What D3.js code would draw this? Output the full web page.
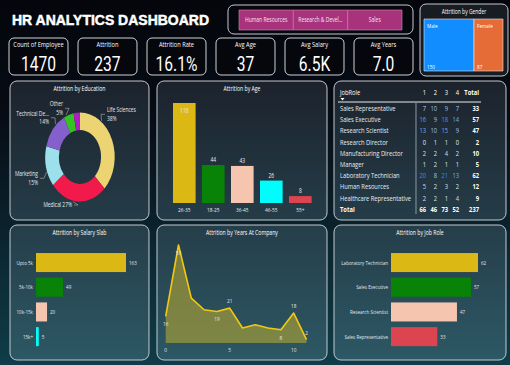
<!DOCTYPE html>
<html lang="en">
<head>
<meta charset="utf-8">
<title>HR Analytics Dashboard</title>
<script src="https://d3js.org/d3.v7.min.js"></script>
<style>
  body { margin: 0; background: #05070d; }
  text { font-family: "Open Sans", sans-serif; fill: #ffffff; }
</style>
</head>
<body>
<script>
// ---- data
var kpiNames = ["Count of Employee", "Attrition", "Attrition Rate", "Avg Age", "Avg Salary", "Avg Years"];
var kpiValues = ["1470", "237", "16.1%", "37", "6.5K", "7.0"];

var departments = ["Human Resources", "Research & Devel...", "Sales"];

var genders = ["Male", "Female"];
var genderAttrition = [150, 87];

var eduFields = ["Life Sciences", "Medical", "Marketing", "Technical Degree", "Other", "Human Resources"];
var eduAttrition = [89, 63, 35, 32, 11, 7];

var ageBands = ["26-35", "18-25", "36-45", "46-55", "55+"];
var ageAttrition = [116, 44, 43, 26, 8];

var jobRoles = ["Sales Representative", "Sales Executive", "Research Scientist", "Research Director",
  "Manufacturing Director", "Manager", "Laboratory Technician", "Human Resources", "Healthcare Representative"];
var satisfaction = ["1", "2", "3", "4"];
var roleBySatisfaction = [
  [7, 10, 9, 7],
  [16, 9, 18, 14],
  [13, 10, 15, 9],
  [0, 1, 1, 0],
  [2, 2, 4, 2],
  [1, 2, 1, 1],
  [20, 8, 21, 13],
  [5, 2, 3, 2],
  [2, 2, 1, 4]
];

var salarySlabs = ["Upto 5k", "5k-10k", "10k-15k", "15k+"];
var salaryAttrition = [163, 49, 20, 5];

var yearsAtCompany = [0, 1, 2, 3, 4, 5, 6, 7, 8, 9, 10, 11];
var yearsAttrition = [16, 59, 27, 20, 19, 21, 9, 11, 9, 8, 18, 2];
var yearTicks = [0, 5, 10];

var topRoles = ["Laboratory Technician", "Sales Executive", "Research Scientist", "Sales Representative"];
var topRoleAttrition = [62, 57, 47, 33];

// ---- palettes
var eduColors = ["#ecd473", "#f2194b", "#9be0ea", "#855fcb", "#35c322", "#b01cc6"];
var ageColors = ["#dcb815", "#088308", "#f5c5b0", "#00fdfd", "#dc4550"];
var salaryColors = ["#dcb815", "#088308", "#f5c5b0", "#00fdfd"];
var roleColors = ["#dcb815", "#088308", "#f5c5b0", "#dc4550"];

// the picture is squeezed sideways, so draw wide and scale x down
var k = 0.78, W = 510, H = 365;
function X(v) { return v / k; }

var svg = d3.select("body").append("svg").attr("width", W).attr("height", H);
var defs = svg.append("defs");

var bg = defs.append("linearGradient").attr("id", "bg")
  .attr("x1", 0).attr("y1", 0).attr("x2", 0).attr("y2", 1);
bg.append("stop").attr("offset", "0%").attr("stop-color", "#04060b");
bg.append("stop").attr("offset", "30%").attr("stop-color", "#060b14");
bg.append("stop").attr("offset", "100%").attr("stop-color", "#0f3d49");

var pg = defs.append("linearGradient").attr("id", "panel")
  .attr("gradientUnits", "userSpaceOnUse")
  .attr("x1", 0).attr("y1", 80).attr("x2", 0).attr("y2", 362);
pg.append("stop").attr("offset", "0%").attr("stop-color", "#1c222c");
pg.append("stop").attr("offset", "100%").attr("stop-color", "#2d5865");

svg.append("rect").attr("width", W).attr("height", H).attr("fill", "url(#bg)");

var root = svg.append("g").attr("transform", "scale(" + k + ",1)");

function frame(x0, y0, x1, y1, fill, r) {
  return root.append("rect")
    .attr("x", X(x0)).attr("y", y0)
    .attr("width", X(x1 - x0)).attr("height", y1 - y0)
    .attr("rx", X(r)).attr("ry", r)
    .attr("fill", fill)
    .attr("stroke", "#c3c9ce")
    .attr("stroke-width", 1)
    .attr("vector-effect", "non-scaling-stroke");
}

function panel(x0, y0, x1, y1, title) {
  frame(x0, y0, x1, y1, "url(#panel)", 7);
  root.append("text")
    .attr("x", X((x0 + x1) / 2)).attr("y", y0 + 10)
    .attr("text-anchor", "middle")
    .attr("font-size", 6.6)
    .text(title);
}

// ---- header
root.append("text")
  .attr("x", X(12)).attr("y", 25)
  .attr("font-weight", "bold")
  .attr("font-size", 15.5)
  .attr("textLength", X(197))
  .attr("lengthAdjust", "spacingAndGlyphs")
  .attr("stroke", "#ffffff")
  .attr("stroke-width", 0.5)
  .style("font-family", "'Liberation Sans', Arial, sans-serif")
  .text("HR ANALYTICS DASHBOARD");

// department slicer
frame(228, 5, 413, 34, "none", 6);
var deptX = d3.scaleBand().domain(departments).range([X(239), X(402)]);
root.selectAll(".dept").data(departments).enter().append("rect")
  .attr("class", "dept")
  .attr("x", function(d) { return deptX(d); })
  .attr("y", 10)
  .attr("width", deptX.bandwidth())
  .attr("height", 20)
  .attr("fill", "#a8327b")
  .attr("stroke", "#d58ab6")
  .attr("stroke-width", 0.6)
  .attr("vector-effect", "non-scaling-stroke");
root.selectAll(".deptLabel").data(departments).enter().append("text")
  .attr("x", function(d) { return deptX(d) + deptX.bandwidth() / 2; })
  .attr("y", 22.5)
  .attr("text-anchor", "middle")
  .attr("font-size", 6.4)
  .style("fill", "#f6e6f0")
  .text(function(d) { return d; });

// KPI cards
var cardX = d3.scaleBand().domain(kpiNames).range([X(9), X(413)]).paddingInner(0.145);
kpiNames.forEach(function(name, i) {
  var x0 = cardX(name);
  root.append("rect")
    .attr("x", x0).attr("y", 38)
    .attr("width", cardX.bandwidth()).attr("height", 37)
    .attr("rx", X(5)).attr("ry", 5)
    .attr("fill", "#05070d")
    .attr("stroke", "#cfd3d6")
    .attr("vector-effect", "non-scaling-stroke");
  root.append("text")
    .attr("x", x0 + cardX.bandwidth() / 2).attr("y", 47)
    .attr("text-anchor", "middle")
    .attr("font-size", 7.3)
    .text(name);
  root.append("text")
    .attr("x", x0 + cardX.bandwidth() / 2).attr("y", 71)
    .attr("text-anchor", "middle")
    .attr("font-size", 20)
    .style("font-family", "Roboto, sans-serif")
    .text(kpiValues[i]);
});

// attrition by gender (treemap strip)
frame(420, 4, 508, 76, "#171b22", 6);
root.append("text")
  .attr("x", X(464)).attr("y", 14)
  .attr("text-anchor", "middle")
  .attr("font-size", 6.4)
  .text("Attrition by Gender");
var genderStart = d3.cumsum([0].concat(genderAttrition));
var gX = d3.scaleLinear().domain([0, d3.sum(genderAttrition)]).range([X(424), X(503)]);
var genderColors = ["#118dff", "#e66c37"];
genders.forEach(function(g, i) {
  var x0 = gX(genderStart[i]), x1 = gX(genderStart[i + 1]);
  root.append("rect")
    .attr("x", x0).attr("y", 19)
    .attr("width", x1 - x0).attr("height", 52)
    .attr("fill", genderColors[i])
    .attr("stroke", "#e8e8e8")
    .attr("stroke-width", 0.6)
    .attr("vector-effect", "non-scaling-stroke");
  root.append("text").attr("x", x0 + X(3)).attr("y", 28).attr("font-size", 6).text(g);
  root.append("text").attr("x", x0 + X(3)).attr("y", 69).attr("font-size", 6).text(genderAttrition[i]);
});

// ---- panels
panel(10, 81, 149, 220, "Attrition by Education");
panel(157, 81, 327, 220, "Attrition by Age");
frame(334, 81, 506, 220, "url(#panel)", 7);
panel(10, 225, 149, 360, "Attrition by Salary Slab");
panel(157, 225, 327, 360, "Attrition by Years At Company");
panel(334, 225, 506, 360, "Attrition by Job Role");

// ---- education donut
var cx = X(80), cy = 157, rOut = 44.5, rIn = 27;
var pie = d3.pie().sort(null).value(function(d) { return d; });
var eduArcs = pie(eduAttrition);
var arc = d3.arc().innerRadius(rIn).outerRadius(rOut);
var gEdu = root.append("g").attr("transform", "translate(" + cx + "," + cy + ")");
gEdu.selectAll("path").data(eduArcs).enter().append("path")
  .attr("d", arc)
  .attr("fill", function(d, i) { return eduColors[i]; });

var total = d3.sum(eduAttrition);
function pct(i) { return Math.round(eduAttrition[i] / total * 100) + "%"; }
// label spots (output pixels) and how the text is broken
var eduLabels = [
  { at: [107, 112], anchor: "start", lines: [eduFields[0], pct(0)] },
  { at: [72, 207], anchor: "end", lines: [eduFields[1] + " " + pct(1)] },
  { at: [38, 176], anchor: "end", lines: [eduFields[2], pct(2)] },
  { at: [49, 115.5], anchor: "end", lines: ["Technical De...", pct(3)] },
  { at: [63, 106], anchor: "end", lines: [eduFields[4], pct(4)] }
];
eduLabels.forEach(function(l, i) {
  var lx = X(l.at[0]) - cx, ly = l.at[1] - cy;
  var side = l.anchor === "start" ? -1 : 1;
  var midY = ly + (l.lines.length - 1) * 4.3 - 2;
  var a = Math.atan2(lx, -ly);
  if (a < 0) a += 2 * Math.PI;
  var s = eduArcs[i];
  a = Math.max(s.startAngle + 0.05, Math.min(s.endAngle - 0.05, a));
  var px = Math.sin(a) * (rOut + 1), py = -Math.cos(a) * (rOut + 1);
  gEdu.append("polyline")
    .attr("points", [[px, py], [lx + side * X(6), midY], [lx + side * X(2), midY]].join(" "))
    .attr("fill", "none")
    .attr("stroke", "#a9b0b8")
    .attr("stroke-width", 0.6)
    .attr("vector-effect", "non-scaling-stroke");
  l.lines.forEach(function(t, j) {
    gEdu.append("text")
      .attr("x", lx).attr("y", ly + j * 8.6)
      .attr("text-anchor", l.anchor)
      .attr("font-size", 6.3)
      .style("fill", "#e6e9ec")
      .text(t);
  });
});

// ---- attrition by age
var ageX = d3.scaleBand().domain(ageBands).range([X(169.8), X(314.8)])
  .paddingInner(0.22).paddingOuter(0.11);
var ageY = d3.scaleLinear().domain([0, 116]).range([203, 103]);
root.selectAll(".age").data(ageAttrition).enter().append("rect")
  .attr("class", "age")
  .attr("x", function(d, i) { return ageX(ageBands[i]); })
  .attr("y", function(d) { return ageY(d); })
  .attr("width", ageX.bandwidth())
  .attr("height", function(d) { return ageY(0) - ageY(d); })
  .attr("fill", function(d, i) { return ageColors[i]; });
root.selectAll(".ageVal").data(ageAttrition).enter().append("text")
  .attr("x", function(d, i) { return ageX(ageBands[i]) + ageX.bandwidth() / 2; })
  .attr("y", function(d) { return d > 100 ? ageY(d) + 10 : ageY(d) - 3; })
  .attr("text-anchor", "middle")
  .attr("font-size", 6.3)
  .style("fill", "#e9ecef")
  .text(function(d) { return d; });
root.selectAll(".ageCat").data(ageBands).enter().append("text")
  .attr("x", function(d) { return ageX(d) + ageX.bandwidth() / 2; })
  .attr("y", 212)
  .attr("text-anchor", "middle")
  .attr("font-size", 6.1)
  .style("fill", "#e9ecef")
  .text(function(d) { return d; });

// ---- job role x satisfaction matrix
var colX = d3.scalePoint().domain(satisfaction).range([X(426), X(459)]);
var totalX = X(479);
var rowY = d3.scalePoint().domain(jobRoles.concat(["Total"])).range([111, 211.7]);
var blue = d3.scaleLinear().domain([0, 5, 21]).range(["#e8ecf0", "#c9d9ec", "#2f8ae6"]);

root.append("text").attr("x", X(340)).attr("y", 95).attr("font-size", 7.4).text("JobRole");
root.selectAll(".colHead").data(satisfaction).enter().append("text")
  .attr("x", function(d) { return colX(d); })
  .attr("y", 95)
  .attr("text-anchor", "end")
  .attr("font-size", 7.4)
  .text(function(d) { return d; });
root.append("text").attr("x", totalX).attr("y", 95).attr("text-anchor", "end")
  .attr("font-size", 7.4).attr("font-weight", "bold").text("Total");
root.append("path")
  .attr("d", "M" + X(340.5) + ",98 l" + X(4) + ",0 l" + X(-2) + ",2.5 z")
  .attr("fill", "#ffffff");
root.append("line")
  .attr("x1", X(338)).attr("x2", X(481)).attr("y1", 102).attr("y2", 102)
  .attr("stroke", "#e6e9ec").attr("stroke-width", 1.2);
root.append("line")
  .attr("x1", X(416)).attr("x2", X(416)).attr("y1", 103).attr("y2", 214)
  .attr("stroke", "#8c9aa6").attr("stroke-width", 1)
  .attr("vector-effect", "non-scaling-stroke");

jobRoles.forEach(function(role, r) {
  var y = rowY(role);
  root.append("text").attr("x", X(340)).attr("y", y).attr("font-size", 7.4)
    .style("fill", "#e8ecf0").text(role);
  roleBySatisfaction[r].forEach(function(v, c) {
    root.append("text")
      .attr("x", colX(satisfaction[c])).attr("y", y)
      .attr("text-anchor", "end")
      .attr("font-size", 7.4)
      .style("fill", blue(v))
      .text(v);
  });
  root.append("text").attr("x", totalX).attr("y", y).attr("text-anchor", "end")
    .attr("font-size", 7.4).attr("font-weight", "bold")
    .text(d3.sum(roleBySatisfaction[r]));
});
var yT = rowY("Total");
root.append("text").attr("x", X(340)).attr("y", yT).attr("font-size", 7.4)
  .attr("font-weight", "bold").text("Total");
satisfaction.forEach(function(s, c) {
  root.append("text").attr("x", colX(s)).attr("y", yT).attr("text-anchor", "end")
    .attr("font-size", 7.4).attr("font-weight", "bold")
    .text(d3.sum(roleBySatisfaction, function(row) { return row[c]; }));
});
root.append("text").attr("x", totalX).attr("y", yT).attr("text-anchor", "end")
  .attr("font-size", 7.4).attr("font-weight", "bold")
  .text(d3.sum(roleBySatisfaction, function(row) { return d3.sum(row); }));

// ---- horizontal bar helper (salary slab, job role)
function hbars(cats, vals, colors, x0, x1, max) {
  var y = d3.scaleBand().domain(cats).range([250.2, 349]).paddingInner(0.23).paddingOuter(0.115);
  var x = d3.scaleLinear().domain([0, max]).range([X(x0), X(x1)]);
  root.selectAll(null).data(vals).enter().append("rect")
    .attr("x", x(0))
    .attr("y", function(d, i) { return y(cats[i]); })
    .attr("width", function(d) { return x(d) - x(0); })
    .attr("height", y.bandwidth())
    .attr("fill", function(d, i) { return colors[i]; });
  root.selectAll(null).data(vals).enter().append("text")
    .attr("x", function(d) { return x(d) + X(3); })
    .attr("y", function(d, i) { return y(cats[i]) + y.bandwidth() / 2 + 2; })
    .attr("font-size", 5.8)
    .style("fill", "#e3e7ea")
    .text(function(d) { return d; });
  root.selectAll(null).data(cats).enter().append("text")
    .attr("x", x(0) - X(3))
    .attr("y", function(d) { return y(d) + y.bandwidth() / 2 + 2; })
    .attr("text-anchor", "end")
    .attr("font-size", 5.8)
    .style("fill", "#e3e7ea")
    .text(function(d) { return d; });
}
hbars(salarySlabs, salaryAttrition, salaryColors, 36, 126, 163);
hbars(topRoles, topRoleAttrition, roleColors, 391, 478, 62);

// ---- attrition by years at company
var yrX = d3.scaleLinear().domain([0, 11]).range([X(165.7), X(306.5)]);
var yrY = d3.scaleLinear().domain([0, 59]).range([343, 245]);
var pts = yearsAtCompany.map(function(y, i) { return [y, yearsAttrition[i]]; });
root.append("path")
  .datum(pts)
  .attr("d", d3.area().x(function(d) { return yrX(d[0]); }).y0(yrY(0)).y1(function(d) { return yrY(d[1]); }))
  .attr("fill", "#c9b42c")
  .attr("fill-opacity", 0.52);
root.append("path")
  .datum(pts)
  .attr("d", d3.line().x(function(d) { return yrX(d[0]); }).y(function(d) { return yrY(d[1]); }))
  .attr("fill", "none")
  .attr("stroke", "#f2c811")
  .attr("stroke-width", 1.6)
  .attr("stroke-linejoin", "round")
  .attr("vector-effect", "non-scaling-stroke");
// which points carry a label, and on which side
var yearLabelSide = { 0: 1, 1: 1, 4: 1, 5: -1, 9: 1, 10: -1, 11: -1 };
root.selectAll(".yrVal").data(pts.filter(function(p) { return p[0] in yearLabelSide; }))
  .enter().append("text")
  .attr("x", function(d) { return yrX(d[0]); })
  .attr("y", function(d) { return yrY(d[1]) + (yearLabelSide[d[0]] > 0 ? 10 : -5); })
  .attr("text-anchor", "middle")
  .attr("font-size", 6)
  .style("fill", "#e3e7ea")
  .text(function(d) { return d[1]; });
root.selectAll(".yrTick").data(yearTicks).enter().append("text")
  .attr("x", function(d) { return yrX(d); })
  .attr("y", 352)
  .attr("text-anchor", "middle")
  .attr("font-size", 6)
  .style("fill", "#e3e7ea")
  .text(function(d) { return d; });
</script>
</body>
</html>
